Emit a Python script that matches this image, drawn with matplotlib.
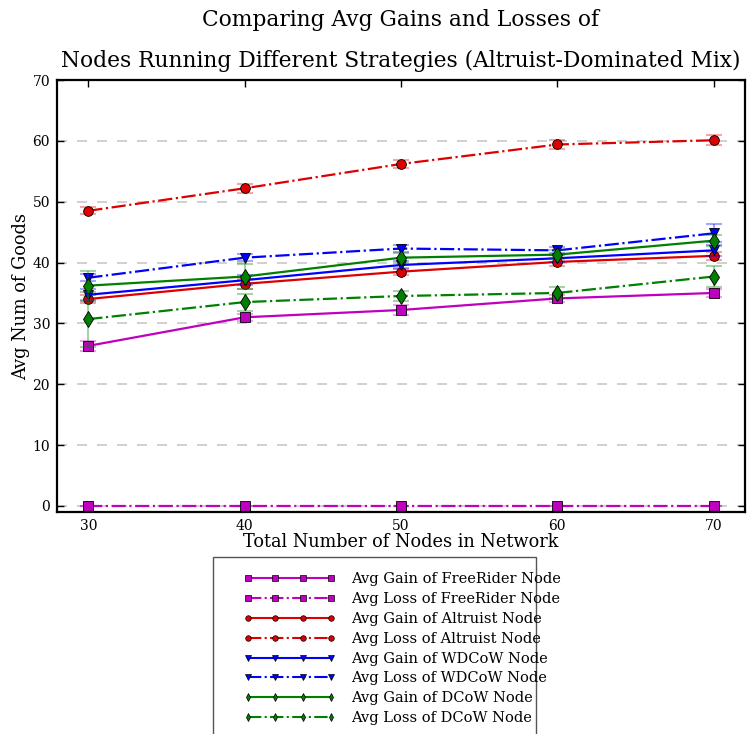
import matplotlib
matplotlib.use("Agg")
import matplotlib.pyplot as plt
from matplotlib.patches import Rectangle

plt.rcParams['font.family'] = ['DejaVu Serif']

nodes = [30, 40, 50, 60, 70]

freerider_gain = [26.3, 31.0, 32.2, 34.1, 35.0]
freerider_loss = [0.0, 0.0, 0.0, 0.0, 0.0]
altruist_gain = [34.0, 36.5, 38.5, 40.1, 41.1]
altruist_loss = [48.5, 52.2, 56.2, 59.4, 60.1]
wdcow_gain = [34.7, 37.1, 39.6, 40.7, 42.0]
wdcow_loss = [37.5, 40.8, 42.3, 42.0, 44.8]
dcow_gain = [36.2, 37.7, 40.8, 41.3, 43.6]
dcow_loss = [30.7, 33.5, 34.5, 35.0, 37.7]

freerider_gain_err = [0.8, 0.6, 0.8, 0.6, 0.6]
freerider_loss_err = [0.0, 0.0, 0.0, 0.0, 0.0]
altruist_gain_err = [0.7, 0.8, 0.6, 0.6, 0.7]
altruist_loss_err = [0.6, 0.7, 0.6, 0.7, 0.8]
wdcow_gain_err = [1.0, 0.8, 0.6, 0.6, 0.9]
wdcow_loss_err = [0.6, 0.6, 0.6, 0.5, 1.5]
dcow_gain_err = [2.4, 2.0, 0.8, 0.7, 0.9]
dcow_loss_err = [4.5, 1.4, 0.9, 0.9, 1.8]

labels = [
    "Avg Gain of FreeRider Node",
    "Avg Loss of FreeRider Node",
    "Avg Gain of Altruist Node",
    "Avg Loss of Altruist Node",
    "Avg Gain of WDCoW Node",
    "Avg Loss of WDCoW Node",
    "Avg Gain of DCoW Node",
    "Avg Loss of DCoW Node",
]

series = [
    (freerider_gain, freerider_gain_err, 'm', 's', '-'),
    (freerider_loss, freerider_loss_err, 'm', 's', '-.'),
    (altruist_gain, altruist_gain_err, 'r', 'o', '-'),
    (altruist_loss, altruist_loss_err, 'r', 'o', '-.'),
    (wdcow_gain, wdcow_gain_err, 'b', 'v', '-'),
    (wdcow_loss, wdcow_loss_err, 'b', 'v', '-.'),
    (dcow_gain, dcow_gain_err, 'g', 'd', '-'),
    (dcow_loss, dcow_loss_err, 'g', 'd', '-.'),
]
cmap = {'m': (0.75, 0, 0.75), 'r': (0.87, 0, 0), 'b': (0, 0, 1), 'g': (0, 0.5, 0)}

fig = plt.figure(figsize=(7.48, 7.34), dpi=100)
ax = fig.add_axes([57/748, 1-512/734, (745-57)/748, (512-80)/734])

handles = []
for (vals, errs, c, m, ls), lab in zip(series, labels):
    col = cmap[c]
    ax.errorbar(nodes, vals, yerr=errs, fmt='none', ecolor=col, alpha=0.35,
                elinewidth=1.5, capsize=6, capthick=1.5)
    ax.plot(nodes, vals, color=col, linestyle=ls, linewidth=1.6, marker=m,
            markersize=7 if m != 'd' else 8, markerfacecolor=col,
            markeredgecolor='black', markeredgewidth=0.6)
    h, = plt.plot([], [], color=col, linestyle=ls, linewidth=1.5, marker=m,
                  markersize=4, markerfacecolor=col, markeredgecolor='black',
                  markeredgewidth=0.5, label=lab)
    handles.append(h)

ax.set_xlim(28, 72)
ax.set_ylim(-1, 70)
ax.set_xticks(nodes)
ax.set_yticks([0, 10, 20, 30, 40, 50, 60, 70])
ax.yaxis.grid(True, linestyle=(0, (6, 6)), color='#c8c8c8', linewidth=1.2)
ax.set_axisbelow(True)
ax.tick_params(direction='in', top=True, right=True, length=5, width=1,
               labelsize=10, pad=5)
for s in ax.spines.values():
    s.set_linewidth(1.6)

ax.set_xlabel("Total Number of Nodes in Network", fontsize=12.8, labelpad=0)
ax.set_ylabel("Avg Num of Goods", fontsize=12.8, labelpad=2)
ax.set_title("Comparing Avg Gains and Losses of\nNodes Running Different Strategies (Altruist-Dominated Mix)",
             fontsize=15.7, linespacing=2.15, pad=9)

fig.patches.append(Rectangle((213/748, -0.05), (536-213)/748, (734-557)/734 + 0.05,
                             transform=fig.transFigure, fill=False,
                             edgecolor='#555555', linewidth=1.0))
fig.legend(handles=handles, loc='upper left', bbox_to_anchor=(236/748, 1-565/734),
           frameon=False, numpoints=4, handlelength=6.3, fontsize=10.5,
           labelspacing=0.40, borderpad=0, handletextpad=1.1)

fig.savefig("out.png", dpi=100)
